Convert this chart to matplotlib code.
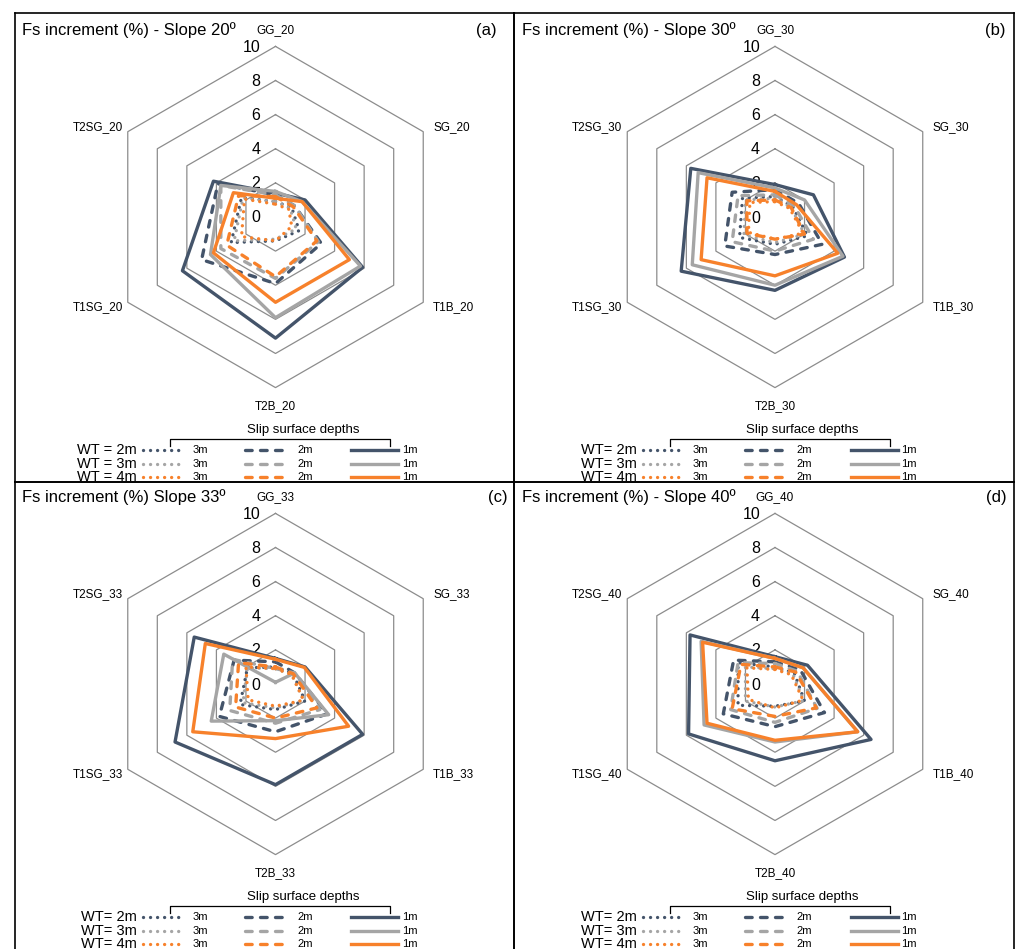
import matplotlib.pyplot as plt
import numpy as np

plt.rcParams['font.family'] = ['Liberation Sans', 'DejaVu Sans']

# radar axes, clockwise from the top
spokes = ['GG', 'SG', 'T1B', 'T2B', 'T1SG', 'T2SG']
slopes = [20, 30, 33, 40]
titles = ['Fs increment (%) - Slope 20º', 'Fs increment (%) - Slope 30º',
          'Fs increment (%) Slope 33º', 'Fs increment (%) - Slope 40º']
tags = ['(a)', '(b)', '(c)', '(d)']
rings = [2, 4, 6, 8, 10]
radial_ticks = [0, 2, 4, 6, 8, 10]
depths = ['3m', '2m', '1m']
wt_labels = [['WT = 2m', 'WT = 3m', 'WT = 4m'],
             ['WT= 2m', 'WT= 3m', 'WT= 4m'],
             ['WT= 2m', 'WT= 3m', 'WT= 4m'],
             ['WT= 2m', 'WT= 3m', 'WT= 4m']]

# Fs increment (%): rows = slip surface depth 3m, 2m, 1m ; columns = spokes
s20_wt2 = [[0.9, 1.1, 1.6, 1.4, 3.0, 2.3],
           [1.3, 1.3, 3.1, 3.9, 5.0, 3.9],
           [1.4, 2.0, 5.9, 7.1, 6.3, 4.2]]
s20_wt3 = [[0.9, 1.0, 1.4, 1.3, 2.8, 2.2],
           [1.3, 1.3, 2.9, 3.6, 3.7, 3.7],
           [1.5, 1.8, 5.75, 5.9, 4.4, 3.7]]
s20_wt4 = [[0.75, 0.9, 1.1, 1.4, 2.3, 2.1],
           [1.2, 1.2, 2.8, 3.5, 3.3, 2.5],
           [1.1, 1.8, 5.0, 5.0, 4.2, 2.85]]

s30_wt2 = [[1.2, 1.2, 2.2, 1.6, 2.4, 2.2],
           [1.6, 1.6, 3.2, 2.2, 3.4, 2.9],
           [1.9, 2.6, 4.7, 4.3, 6.35, 5.7]]
s30_wt3 = [[1.1, 1.1, 2.0, 1.5, 2.1, 2.0],
           [1.3, 1.3, 2.6, 2.0, 2.9, 2.5],
           [1.7, 2.0, 4.6, 4.0, 5.6, 5.2]]
s30_wt4 = [[0.9, 1.0, 1.9, 1.3, 1.8, 1.7],
           [1.0, 1.1, 2.0, 1.3, 1.9, 1.9],
           [1.5, 1.45, 4.25, 3.45, 5.0, 4.6]]

s33_wt2 = [[1.0, 1.2, 2.0, 1.5, 2.4, 1.9],
           [1.3, 1.3, 3.5, 2.8, 3.8, 2.8],
           [1.5, 2.0, 5.9, 5.9, 6.8, 5.5]]
s33_wt3 = [[0.9, 1.1, 1.9, 1.4, 2.2, 1.9],
           [0.9, 1.3, 3.0, 2.3, 3.1, 2.9],
           [0.1, 1.3, 3.6, 2.15, 4.35, 3.5]]
s33_wt4 = [[0.9, 1.1, 1.9, 1.3, 1.85, 2.0],
           [1.0, 1.2, 2.8, 2.0, 2.7, 2.5],
           [1.45, 1.95, 4.95, 3.2, 5.6, 4.75]]

s40_wt2 = [[1.0, 1.3, 2.0, 1.3, 2.5, 2.5],
           [1.3, 1.7, 3.35, 2.5, 3.5, 2.8],
           [1.6, 2.2, 6.5, 4.5, 5.85, 5.75]]
s40_wt3 = [[0.9, 1.2, 1.95, 1.35, 2.0, 2.0],
           [1.2, 1.5, 2.85, 2.25, 3.0, 2.5],
           [1.5, 1.9, 5.6, 3.4, 4.8, 5.0]]
s40_wt4 = [[0.85, 1.1, 1.9, 1.4, 1.8, 1.9],
           [1.0, 1.4, 2.8, 1.9, 2.9, 2.3],
           [1.5, 1.9, 5.6, 3.3, 4.6, 4.9]]

panels = [[s20_wt2, s20_wt3, s20_wt4],
          [s30_wt2, s30_wt3, s30_wt4],
          [s33_wt2, s33_wt3, s33_wt4],
          [s40_wt2, s40_wt3, s40_wt4]]

colors = ['#44546A', '#A5A5A5', '#F7812B']
lw = 2.4
styles = [dict(linestyle=(0, (0.01, 2.1)), dash_capstyle='round'),
          dict(linestyle=(0, (2.0, 2.5)), dash_capstyle='round'),
          dict(linestyle='-')]

W, H = 1018, 949
fig = plt.figure(figsize=(W / 100, H / 100), dpi=100)

# panel boxes (pixels) and content offsets
boxes = [(15, 12.5, 514, 482), (514, 12.5, 1014, 482),
         (15, 482, 514, 952), (514, 482, 1014, 952)]
offsets = [(0, 0), (499.5, 0), (0, 467), (499.5, 467)]
tag_x = [497, 1006, 508, 1007]

R = 170.6
theta = np.linspace(0, 2 * np.pi, len(spokes), endpoint=False)
theta_c = np.append(theta, theta[0])

lab_off = [(0, 16, 'center'), (10, 5, 'left'), (10, -5, 'left'),
           (0, -18, 'center'), (-5, -5, 'right'), (-5, 5, 'right')]

for p in range(4):
    bx0, by0, bx1, by1 = boxes[p]
    ox, oy = offsets[p]

    # frame + title + legend, in panel pixel coordinates
    fr = fig.add_axes([bx0 / W, 1 - by1 / H, (bx1 - bx0) / W, (by1 - by0) / H])
    fr.set_xlim(bx0 - ox, bx1 - ox)
    fr.set_ylim(by1 - oy, by0 - oy)
    fr.set_xticks([])
    fr.set_yticks([])
    fr.patch.set_alpha(0)
    for s in fr.spines.values():
        s.set_linewidth(1.2)
        s.set_color('black')

    fr.text(22, 30, titles[p], fontsize=12, va='center', ha='left')
    fr.text(tag_x[p] - ox, 31, tags[p], fontsize=12, va='center', ha='right')

    # legend
    fr.text(303, 430, 'Slip surface depths', fontsize=9.5, ha='center', va='center')
    fr.plot([170, 170, 390, 390], [446, 438.5, 438.5, 446], color='black', lw=0.9)
    rows = [450, 464, 477]
    seg = [(143, 185, 193), (245, 289, 297), (351, 398, 402)]
    for i in range(3):
        fr.text(137, rows[i], wt_labels[p][i], fontsize=10.5, ha='right',
                va='center', clip_on=True)
        for d in range(3):
            x0, x1, xt = seg[d]
            fr.plot([x0, x1], [rows[i], rows[i]], color=colors[i], lw=lw,
                    clip_on=True, **styles[d])
            fr.text(xt, rows[i], depths[d], fontsize=8, ha='left', va='center',
                    clip_on=True)

    # radar
    cx, cy = 275.5 + ox, 217 + oy
    ax = fig.add_axes([(cx - R) / W, 1 - (cy + R) / H, 2 * R / W, 2 * R / H],
                      projection='polar')
    ax.set_theta_zero_location('N')
    ax.set_theta_direction(-1)
    ax.set_ylim(0, 10)
    ax.axis('off')

    for r in rings:
        ax.plot(theta_c, [r] * len(theta_c), color='#8C8C8C', lw=0.9,
                zorder=1, clip_on=False)
    for t in radial_ticks:
        ax.annotate(str(t), xy=(0, t), xytext=(-15, -1), textcoords='offset pixels',
                    ha='right', va='center', fontsize=11.5)
    for k, name in enumerate(spokes):
        dx, dy, ha = lab_off[k]
        ax.annotate(f'{name}_{slopes[p]}', xy=(theta[k], 10), xytext=(dx, dy),
                    textcoords='offset pixels', ha=ha, va='center', fontsize=8.5)

    for i, wt in enumerate(panels[p]):
        for d in range(3):
            vals = np.append(wt[d], wt[d][0])
            ax.plot(theta_c, vals, color=colors[i], lw=lw, zorder=3,
                    clip_on=False, **styles[d])

fig.savefig('out.png', dpi=100)
